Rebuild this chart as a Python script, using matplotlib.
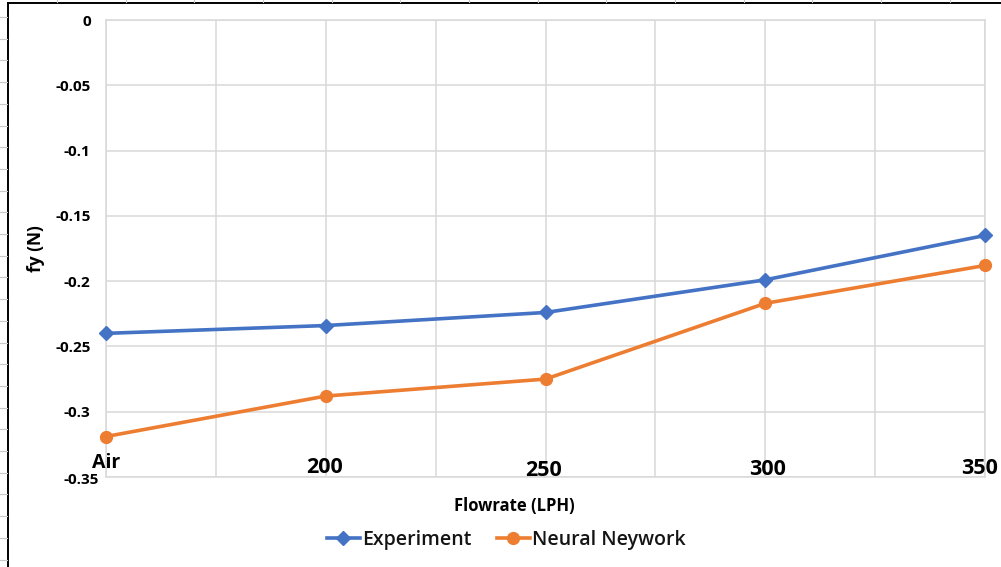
import matplotlib
matplotlib.use("Agg")
import matplotlib.pyplot as plt
from matplotlib.lines import Line2D
import numpy as np

# Data
categories = ["Air", "200", "250", "300", "350"]
experiment = [-0.240, -0.234, -0.224, -0.199, -0.165]
neural_network = [-0.319, -0.288, -0.275, -0.217, -0.188]
y_ticks = [0, -0.05, -0.1, -0.15, -0.2, -0.25, -0.3, -0.35]
y_tick_labels = ["0", "-0.05", "-0.1", "-0.15", "-0.2", "-0.25", "-0.3", "-0.35"]

BLUE = "#4472C4"
ORANGE = "#ED7D31"
GRID = "#D9D9D9"
FONT = ["Open Sans", "DejaVu Sans"]

W, H = 1001, 567
fig = plt.figure(figsize=(W / 100, H / 100), dpi=100)
fig.patch.set_facecolor("white")

# plot area in pixel coordinates
left, right, top, bottom = 106, 985, 20, 477
ax = fig.add_axes([left / W, 1 - bottom / H, (right - left) / W, (bottom - top) / H])

x = np.arange(len(categories))
ax.plot(x, experiment, color=BLUE, lw=2.6, marker="D", ms=7.5,
        label="Experiment", zorder=4, clip_on=False)
ax.plot(x, neural_network, color=ORANGE, lw=2.6, marker="o", ms=8.5,
        label="Neural Neywork", zorder=4, clip_on=False)

ax.set_xlim(0, len(categories) - 1)
ax.set_ylim(-0.35, 0)
ax.set_yticks(y_ticks)
ax.set_yticklabels(y_tick_labels, fontfamily=FONT, fontweight="bold", fontsize=11)
ax.tick_params(axis="y", length=0, pad=11)
# the lowest tick label sits a little lower and further right
last = ax.get_yticklabels()[-1]
last.set_transform(last.get_transform() +
                   matplotlib.transforms.ScaledTranslation(8 / 100, -2 / 100, fig.dpi_scale_trans))
ax.set_xticks(np.arange(0, len(categories) - 0.5, 0.5))
ax.tick_params(axis="x", length=0, labelbottom=False)
ax.grid(True, color=GRID, lw=1.1)
ax.set_axisbelow(True)
for s in ax.spines.values():
    s.set_color(GRID)
    s.set_linewidth(1.1)

# category labels sitting just inside the bottom of the plot area
# (horizontal shift, baseline height above the axis floor) in pixels
offsets = [(0, 9), (-1, 4), (-1.5, 1), (2, 2), (-5, 3)]
for i, lab in enumerate(categories):
    dx, dy = offsets[i]
    size = 14 if lab == "Air" else 15.5
    ax.annotate(lab, (i, -0.35), xytext=(dx * 0.72, dy * 0.72), textcoords="offset points",
                ha="center", va="baseline", fontfamily=FONT, fontweight="bold",
                fontsize=size, color="black", annotation_clip=False, zorder=5)

ax.set_ylabel("fy (N)", fontfamily=FONT, fontweight="bold", fontsize=12.5)
ax.yaxis.set_label_coords(-(106 - 45) / (right - left), 0.5)
fig.text(514 / W, 1 - 506 / H, "Flowrate (LPH)", ha="center",
         va="center", fontfamily=FONT, fontweight="bold", fontsize=12)

leg = fig.legend(loc="center", bbox_to_anchor=(506 / W, 1 - 540 / H), ncol=2,
                 frameon=False, prop={"family": FONT, "size": 14, "weight": "semibold"},
                 handlelength=1.7, columnspacing=1.3, handletextpad=0.1)
for t in leg.get_texts():
    t.set_color("#141414")

# surrounding sheet frame
def px_line(x0, y0, x1, y1, color, lw):
    fig.add_artist(Line2D([x0 / W, x1 / W], [1 - y0 / H, 1 - y1 / H],
                          transform=fig.transFigure, color=color, lw=lw))

px_line(8, 3, 8, H, "black", 1.4)
px_line(8, 3, W, 3, "black", 1.4)
for k in range(27):
    yy = 17 + 21.7 * k
    if yy < H:
        px_line(0, yy, 7, yy, "#c8c8c8", 0.8)
for k in range(15):
    xx = 57 + 68.67 * k
    if xx < W:
        px_line(xx, 0, xx, 2, "#c8c8c8", 0.8)

fig.savefig("out.png", dpi=100)
